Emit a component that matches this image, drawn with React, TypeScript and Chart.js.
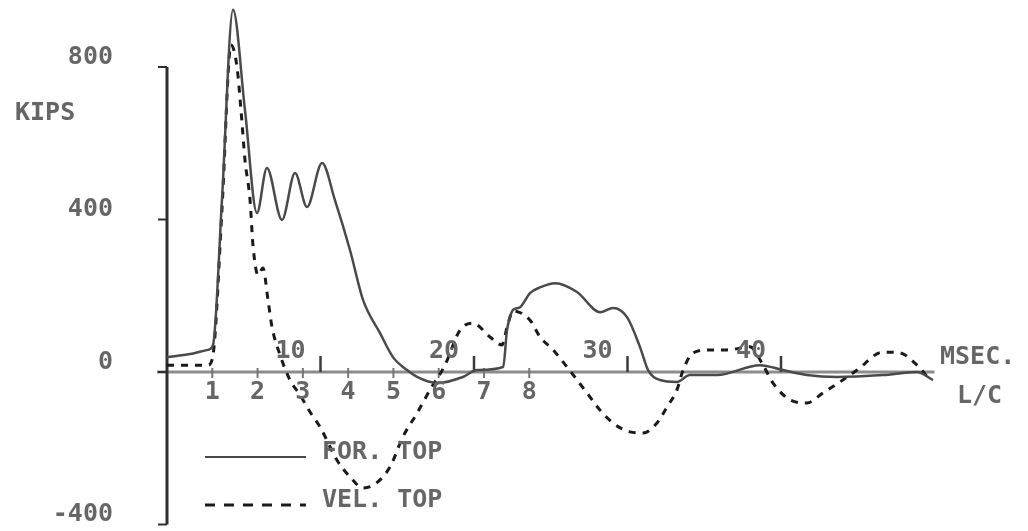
import React, { useEffect, useRef } from "react";
import { Chart, registerables } from "chart.js";

Chart.register(...registerables);

// ---- Data (time in milliseconds, value in kips) ----
const forceTime = [
  0, 1.5, 2.67, 3.0, 3.58, 4.3, 5.08, 5.86, 6.51, 7.49, 8.34, 9.12, 10.1, 10.94, 11.92,
  12.77, 13.88, 14.72, 15.64, 16.29, 17.59, 19.28, 20.2, 21.9, 22.15, 22.35, 22.54, 23.0,
  23.65, 24.3, 25.3, 26.71, 28.21, 29.06, 29.97, 30.81, 31.34, 32.12, 33.22, 34.07, 35.83,
  38.63, 40.13, 41.69, 43.65, 46.64, 48.86, 49.9,
];
const forceKips = [
  39, 47, 58, 71, 451, 950, 687, 417, 535, 399, 522, 433, 548, 451, 320,
  189, 102, 39, 5, -13, -29, -13, 5, 13, 110, 145, 163, 170,
  207, 222, 233, 210, 157, 168, 144, 66, 5, -21, -26, -8, -8,
  18, 5, -8, -13, -8, 0, -21,
];

const velocityTime = [
  0, 2.67, 3.0, 3.58, 4.17, 4.56, 4.82, 5.08, 5.41, 5.6, 5.93, 6.25, 6.58, 6.84, 7.36,
  8.01, 8.66, 9.32, 9.97, 11.07, 11.92, 12.77, 13.55, 14.53, 15.37, 16.29, 17.13, 18.11,
  19.09, 19.93, 21.04, 21.82, 22.2, 22.55, 23.65, 24.3, 25.15, 26.06, 27.36, 28.21, 29.06,
  30.16, 31.01, 31.92, 32.57, 33.22, 33.62, 34.27, 35.37, 36.48, 37.98, 38.83, 39.48, 40.59,
  41.69, 42.74, 43.84, 44.95, 46.64, 47.75, 48.86, 49.71,
];
const velocityKips = [
  18, 18, 45, 425, 858, 800, 687, 556, 451, 333, 254, 273, 189, 118, 45,
  -21, -60, -105, -144, -231, -275, -304, -294, -249, -170, -108, -47, 18,
  110, 128, 92, 71, 125, 160, 136, 92, 58, 13, -55, -100, -134,
  -157, -160, -134, -92, -47, 5, 50, 58, 58, 66, 18, -29, -73,
  -81, -55, -26, 5, 52, 50, 18, -21,
];

const seriesLabels = ["FOR. TOP", "VEL. TOP"];
const yTickValues = [800, 400, 0, -400];
const msecTicks = [10, 20, 30, 40];
const lcTicks = [1, 2, 3, 4, 5, 6, 7, 8];
const msPerLC = 2.95;
const yAxisTitle = "KIPS";
const msecTitle = "MSEC.";
const lcTitle = "L/C";

const FONT = "bold 25px 'DejaVu Sans Mono', 'Liberation Mono', monospace";
const TEXT = "#666666";

const plotterPlugin = {
  id: "plotterAxes",
  beforeDatasetsDraw(chart: any) {
    const { ctx } = chart;
    const xs = chart.scales.x;
    const ys = chart.scales.y;
    const x0 = xs.getPixelForValue(0);
    const y0 = ys.getPixelForValue(0);
    ctx.save();
    // horizontal zero axis
    ctx.strokeStyle = "#8c8c8c";
    ctx.lineWidth = 3;
    ctx.beginPath();
    ctx.moveTo(x0 - 10, y0);
    ctx.lineTo(xs.getPixelForValue(50), y0);
    ctx.stroke();
    // vertical axis
    ctx.strokeStyle = "#2e2e2e";
    ctx.lineWidth = 3;
    ctx.beginPath();
    ctx.moveTo(x0, ys.getPixelForValue(yTickValues[0]));
    ctx.lineTo(x0, ys.getPixelForValue(yTickValues[yTickValues.length - 1]));
    ctx.stroke();
    // y ticks
    ctx.lineWidth = 2;
    yTickValues.forEach((v) => {
      const py = ys.getPixelForValue(v);
      ctx.beginPath();
      ctx.moveTo(x0 - 9, py);
      ctx.lineTo(x0, py);
      ctx.stroke();
    });
    // msec ticks (upward)
    ctx.strokeStyle = "#3a3a3a";
    ctx.lineWidth = 2.5;
    msecTicks.forEach((t) => {
      const px = xs.getPixelForValue(t);
      ctx.beginPath();
      ctx.moveTo(px, y0);
      ctx.lineTo(px, y0 - 16);
      ctx.stroke();
    });
    // L/C ticks (small)
    ctx.strokeStyle = "#777";
    ctx.lineWidth = 2;
    lcTicks.forEach((n) => {
      const px = xs.getPixelForValue(n * msPerLC);
      ctx.beginPath();
      ctx.moveTo(px, y0 - 4);
      ctx.lineTo(px, y0 + 6);
      ctx.stroke();
    });
    ctx.restore();
  },
  afterDatasetsDraw(chart: any) {
    const { ctx } = chart;
    const xs = chart.scales.x;
    const ys = chart.scales.y;
    const x0 = xs.getPixelForValue(0);
    const y0 = ys.getPixelForValue(0);
    ctx.save();
    ctx.font = FONT;
    ctx.fillStyle = TEXT;
    ctx.textBaseline = "middle";
    // y tick labels
    ctx.textAlign = "right";
    yTickValues.forEach((v) => {
      ctx.fillText(String(v), x0 - 54, ys.getPixelForValue(v) - 10);
    });
    ctx.textAlign = "left";
    ctx.fillText(yAxisTitle, 15, 113);
    // msec labels (above axis, left of tick)
    ctx.textAlign = "right";
    msecTicks.forEach((t) => {
      ctx.fillText(String(t), xs.getPixelForValue(t) - 15, y0 - 21);
    });
    // L/C labels below axis
    ctx.textAlign = "center";
    lcTicks.forEach((n) => {
      ctx.fillText(String(n), xs.getPixelForValue(n * msPerLC), y0 + 20);
    });
    ctx.textAlign = "left";
    ctx.fillText(msecTitle, 940, y0 - 15);
    ctx.fillText(lcTitle, 957, y0 + 24);
    // legend
    const datasets = chart.data.datasets;
    const legendRows = [452, 500];
    datasets.forEach((ds: any, i: number) => {
      const ly = legendRows[i];
      ctx.save();
      ctx.strokeStyle = ds.borderColor;
      ctx.lineWidth = i === 0 ? 2 : 3;
      ctx.setLineDash(i === 0 ? [] : [10, 9]);
      ctx.beginPath();
      ctx.moveTo(205, ly + 5);
      ctx.lineTo(306, ly + 5);
      ctx.stroke();
      ctx.restore();
      ctx.fillStyle = TEXT;
      ctx.fillText(ds.label, 322, ly);
    });
    ctx.restore();
  },
};

export default function App() {
  const canvasRef = useRef<HTMLCanvasElement | null>(null);

  useEffect(() => {
    if (!canvasRef.current) return;
    const chart = new Chart(canvasRef.current, {
      type: "line",
      data: {
        datasets: [
          {
            label: seriesLabels[0],
            data: forceTime.map((t, i) => ({ x: t, y: forceKips[i] })),
            borderColor: "#4a4a4a",
            borderWidth: 2.5,
            pointRadius: 0,
            cubicInterpolationMode: "monotone",
            clip: false as any,
          },
          {
            label: seriesLabels[1],
            data: velocityTime.map((t, i) => ({ x: t, y: velocityKips[i] })),
            borderColor: "#1a1a1a",
            borderWidth: 3,
            borderDash: [7, 7],
            pointRadius: 0,
            cubicInterpolationMode: "monotone",
            clip: false as any,
          },
        ],
      },
      options: {
        animation: false,
        responsive: false,
        devicePixelRatio: 1,
        layout: { padding: { left: 167, right: 93.5, top: 6, bottom: 6.5 } },
        scales: {
          x: { type: "linear", min: 0, max: 50, display: false },
          y: { type: "linear", min: -400, max: 960, display: false },
        },
        plugins: {
          legend: { display: false },
          tooltip: { enabled: false },
        },
      },
      plugins: [plotterPlugin],
    });
    return () => chart.destroy();
  }, []);

  return (
    <div style={{ position: "fixed", left: 0, top: 0, width: 1028, height: 531, background: "#fff" }}>
      <canvas ref={canvasRef} width={1028} height={531} />
    </div>
  );
}
